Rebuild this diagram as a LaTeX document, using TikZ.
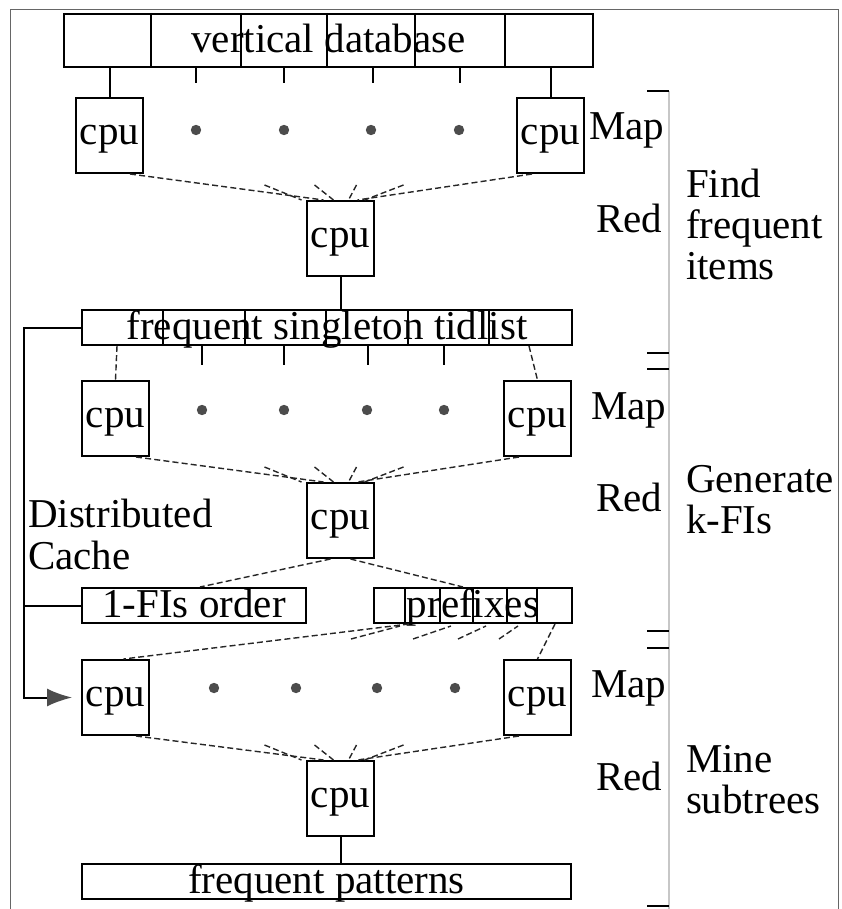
\documentclass[tikz,border=0pt]{standalone}
\usepackage{fontspec}
\setmainfont{Liberation Serif}
\usetikzlibrary{arrows.meta, calc}
\def\pxUnit{0.5pt}
\def\cpuW{33.5pt}
\def\cpuH{37.5pt}
\def\barH{17.5pt}
\def\busGap{57}
\newcommand{\MapRedStyles}{
  \tikzset{
    basebox/.style={
      rectangle,
      draw=black,
      line width=1pt,
      inner sep=0pt,
      anchor=north west,
      align=center,
      text height=12pt,
      text depth=3pt
    },
    cpubox/.style={basebox, minimum width=\cpuW, minimum height=\cpuH},
    bar/.style={basebox, minimum height=\barH, text height=14pt, text depth=2pt},
    dashline/.style={line width=0.7pt, dash pattern=on 3pt off 1.6pt, black!85},
    dotfill/.style={fill=black!70},
    sidelabel/.style={anchor=west, inner sep=0pt},
    phase/.style={anchor=west, inner sep=0pt, align=left},
    bracket/.style={black!22, line width=1.4pt},
    frame/.style={black!60, line width=0.5pt}
  }
}
% dashed reduce lines: left cpu, right cpu, reducer
\newcommand{\reduceFan}[3]{
  \draw[dashline] ([xshift=-7pt]#1.south east) -- ([xshift=-8.5pt]#3.north);
  \draw[dashline] ([xshift=8pt]#2.south west) -- ([xshift=8.5pt]#3.north);
  \foreach \a/\b in {-76/-39, -26/-7, 16/8, 63/24}
    \draw[dashline] ($(#3.north)+(\a,-15)$) -- ($(#3.north)+(\b,0)$);
}

\begin{document}
\begin{tikzpicture}[
  x=\pxUnit, y=-\pxUnit,
  line width=1pt,
  font=\fontsize{20.5pt}{20.5pt}\selectfont
]
  \MapRedStyles
  \useasboundingbox (0,0) rectangle (841,909);

  \draw[frame] (10,909) -- (10,10) -- (838,10) -- (838,909);

  % find frequent items
  \node[bar, minimum width=264.5pt, minimum height=26.5pt] (vdb) at (63,13) {vertical database};
  \foreach \x in {151,241,327,415,505}
    \draw (\x,0 |- vdb.north) -- (\x,0 |- vdb.south);
  \node[cpubox] (cpuAl) at (75,97) {cpu};
  \node[cpubox] (cpuAr) at (516,97) {cpu};
  \node[cpubox] (cpuAm) at (306,200) {cpu};
  \draw (cpuAl.north) -- (cpuAl.north |- vdb.south);
  \draw (cpuAr.north) -- (cpuAr.north |- vdb.south);
  \foreach \x in {196,284,373,460}
    \draw (\x,0 |- vdb.south) -- ++(0,15);
  \foreach \x in {196,284,371,459}
    \fill[dotfill] (\x,130) circle (2.6pt);
  \reduceFan{cpuAl}{cpuAr}{cpuAm}
  \node[sidelabel] (mapA) at (588,130) {Map};
  \node[sidelabel] (redA) at (595,218) {Red};

  % generate k-FIs
  \node[bar, minimum width=245pt] (tidlist) at (81,309) {frequent singleton tidlist};
  \foreach \x in {163,245,326,408,489}
    \draw (\x,0 |- tidlist.north) -- (\x,0 |- tidlist.south);
  \draw (cpuAm.south) -- (cpuAm.south |- tidlist.north);
  \node[cpubox] (cpuBl) at (81,380) {cpu};
  \node[cpubox] (cpuBr) at (503,380) {cpu};
  \node[cpubox] (cpuBm) at (306,482) {cpu};
  \draw[dashline] (117,0 |- tidlist.south) -- (cpuBl.north);
  \draw[dashline] (529,0 |- tidlist.south) -- (cpuBr.north);
  \foreach \x in {202,284,368,444}
    \draw (\x,0 |- tidlist.south) -- ++(0,19);
  \foreach \x in {202,284,367,444}
    \fill[dotfill] (\x,410) circle (2.6pt);
  \reduceFan{cpuBl}{cpuBr}{cpuBm}
  \node[sidelabel] (mapB) at (590,410) {Map};
  \node[sidelabel] (redB) at (595,497) {Red};
  \node[anchor=west, inner sep=0pt, align=left] (cache) at (27,534) {Distributed\\[0.5pt]Cache};

  \node[bar, minimum width=112pt] (fiorder) at (81,587) {1-FIs order};
  \node[bar, minimum width=99pt] (prefixes) at (373,587) {prefixes};
  \foreach \x in {405,440,473,507,537}
    \draw (\x,0 |- prefixes.north) -- (\x,0 |- prefixes.south);
  \draw[dashline] ([xshift=-5pt]cpuBm.south) -- ([xshift=3pt]fiorder.north);
  \draw[dashline] ([xshift=5pt]cpuBm.south) -- ([xshift=-5pt]prefixes.north);

  % mine subtrees
  \node[cpubox] (cpuCl) at (81,659) {cpu};
  \node[cpubox] (cpuCr) at (503,659) {cpu};
  \node[cpubox] (cpuCm) at (306,760) {cpu};
  \draw[dashline] (409,0 |- prefixes.south) -- ([xshift=4pt]cpuCl.north);
  \draw[dashline] (555,0 |- prefixes.south) -- (cpuCr.north);
  \foreach \a/\b in {-22/27, 40/78, 85/113, 126/145}
    \draw[dashline] ($(prefixes.south west)+(\a,15)$) -- ($(prefixes.south west)+(\b,2)$);
  \foreach \x in {214,296,377,455}
    \fill[dotfill] (\x,688) circle (2.6pt);
  \reduceFan{cpuCl}{cpuCr}{cpuCm}
  \node[sidelabel] (mapC) at (590,688) {Map};
  \node[sidelabel] (redC) at (595,776) {Red};
  \node[bar, minimum width=244.5pt] (patterns) at (81,863) {frequent patterns};
  \draw (cpuCm.south) -- (cpuCm.south |- patterns.north);

  % distributed cache bus
  \draw[-{Latex[length=12.5pt, width=9pt, color=black!70]}]
    (tidlist.west) -- ++(-\busGap,0) |- ([xshift=-4.5pt]cpuCl.west);
  \draw (fiorder.west) -- ++(-\busGap,0);

  % phase brackets
  \draw[bracket] (669,91) -- (669,909);
  \foreach \y in {91,353,369,631,648,906}
    \draw (647,\y) -- (669,\y);
  \node[phase] (findFI) at (685,224) {Find\\frequent\\items};
  \node[phase] (genFI) at (685,500) {Generate\\k-FIs};
  \node[phase] (mineFI) at (685,780) {Mine\\subtrees};
\end{tikzpicture}
\end{document}
